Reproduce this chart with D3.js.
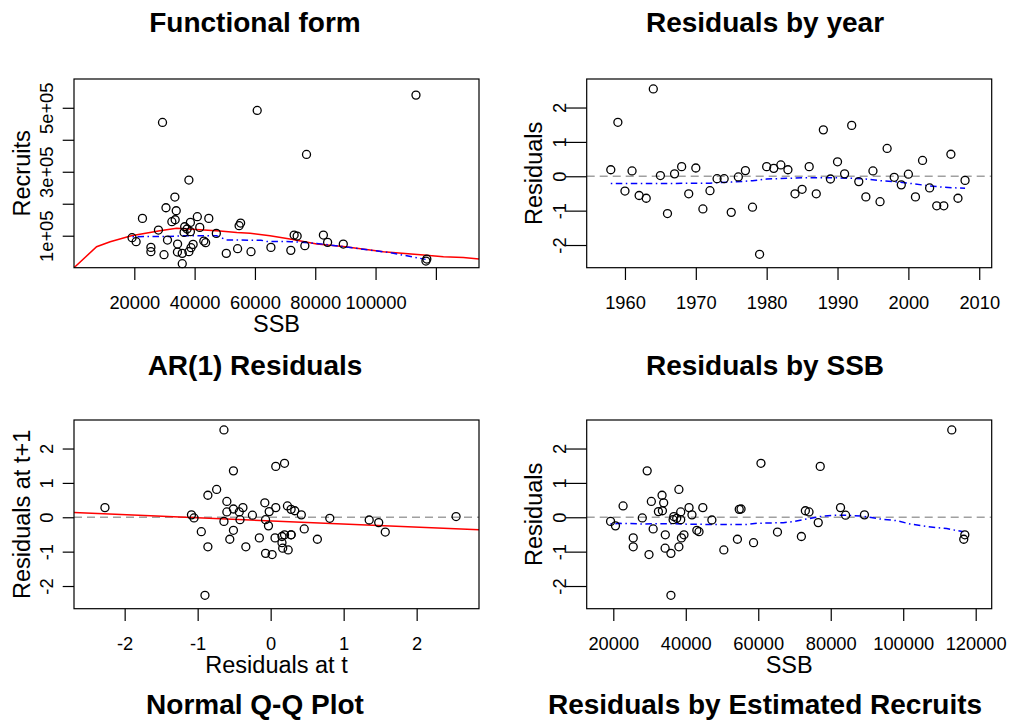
<!DOCTYPE html>
<html>
<head>
<meta charset="utf-8">
<script src="https://cdn.jsdelivr.net/npm/d3@7"></script>
<style>
  body { margin: 0; background: #fff; }
  svg { display: block; }
  text { font-family: "Liberation Sans", Arial, Helvetica, sans-serif; fill: #000; }
</style>
</head>
<body>
<svg id="chart" width="1014" height="721"></svg>
<script>
// ---- Observations by year ----
const years = [1958,1959,1960,1961,1962,1963,1964,1965,1966,1967,1968,1969,1970,1971,1972,1973,1974,1975,1976,1977,
  1978,1979,1980,1981,1982,1983,1984,1985,1986,1987,1988,1989,1990,1991,1992,1993,1994,1995,1996,1997,
  1998,1999,2000,2001,2002,2003,2004,2005,2006,2007,2008];
const ssb = [33550,60750,65300,38600,71900,54250,113400,36700,29850,89300,40900,39500,55250,50500,43650,36500,38600,35900,28000,32450,
  34300,35900,82700,54750,22700,73000,34350,43050,44700,117000,29350,47200,33900,41700,77100,76550,38800,74000,58700,38100,
  37500,20600,84100,25500,30500,31000,38100,25500,33450,116700,19250];
const recruits = [150000,491700,63500,141700,54200,59400,539600,128100,40600,74000,159400,72900,139600,44800,78100,110400,112500,44800,117700,143750,
  48960,12500,102100,131250,154200,102100,73960,83300,154200,27100,454200,107300,178100,126000,354200,68750,62500,99000,50000,274000,
  121000,81250,79200,63540,187500,86460,50000,50000,220800,20800,93750];
const residuals = [0.19,1.57,-0.43,0.155,-0.56,-0.64,2.54,0.02,-1.085,0.07,0.28,-0.51,0.24,-0.95,-0.42,-0.07,-0.07,-1.05,-0.02,0.165,
  -0.9,-2.27,0.28,0.23,0.33,0.19,-0.51,-0.38,0.28,-0.51,1.35,-0.08,0.42,0.07,1.48,-0.155,-0.6,0.155,-0.74,0.81,
  -0.03,-0.25,0.06,-0.6,0.46,-0.34,-0.86,-0.86,0.64,-0.64,-0.12];

// ---- Fitted stock-recruit curve ----
const fitSSB = [0,7500,12000,19000,28500,34000,41800,48400,54000,58400,65000,71600,80500,89300,98200,102600,115900,122500,129100,134300];
const fitRecruits = [0,65600,81000,100000,115600,123000,119000,115000,110000,107500,100000,90000,74000,66000,55000,50000,40000,34000,32000,27000];

// ---- Smoothers ----
const smoothRecSSB = [19400,30000,37000,47300,50600,62000,64000,72000,80500,89300,98200,104800,116600];
const smoothRec = [97000,97500,100000,100000,86500,86000,82000,81500,76000,66000,55000,47000,26000];
const smoothYear = [1958,1966,1972,1975,1978,1980,1983,1985,1989,1992,1994,1996,1998,2000,2003,2005,2008];
const smoothYearRes = [-0.21,-0.21,-0.2,-0.17,-0.13,-0.08,-0.06,-0.04,-0.04,-0.06,-0.08,-0.13,-0.155,-0.2,-0.28,-0.32,-0.35];
const smoothResSSB = [19200,21800,28300,34700,40200,47600,56800,59600,66900,69700,73400,77000,80700,84400,89000,93600,98200,101900,106500,112000,116600];
const smoothRes = [-0.195,-0.176,-0.195,-0.185,-0.2,-0.21,-0.21,-0.176,-0.156,-0.127,-0.05,0.02,0.06,0.06,0.03,-0.05,-0.1,-0.195,-0.27,-0.33,-0.42];

// ---- Lag-1 regression line ----
const arIntercept = -0.104;
const arSlope = -0.0896;

// ---- Axis ticks ----
const recTicks = [100000,200000,300000,400000,500000];
const recTickLabels = ["1e+05","","3e+05","","5e+05"];
const ssbTicks1 = [20000,40000,60000,80000,100000,120000];
const ssbTickLabels1 = ["20000","40000","60000","80000","100000",""];
const yearTicks = [1960,1970,1980,1990,2000,2010];
const resTicks = [-2,-1,0,1,2];
const ssbTicks4 = [20000,40000,60000,80000,100000,120000];

const titles = ["Functional form","Residuals by year","AR(1) Residuals","Residuals by SSB",
  "Normal Q-Q Plot","Residuals by Estimated Recruits"];

const svg = d3.select("#chart");

// Layout: two columns, rows of plot boxes
const cols = [{left: 74, right: 479, yTick: 11.3, titleX: 255},
              {left: 586.7, right: 991.7, yTick: 21, titleX: 765}];
const rows = [{top: 79, bottom: 267.7, titleY: 31.7},
              {top: 420, bottom: 608.7, titleY: 375},
              {titleY: 714}];

function drawPanel(col, row, opt) {
  const g = svg.append("g");
  const x = d3.scaleLinear().domain(opt.xDomain).range([col.left, col.right]);
  const y = d3.scaleLinear().domain(opt.yDomain).range([row.bottom, row.top]);

  // x axis
  const xa = g.append("g").attr("transform", `translate(0,${row.bottom})`)
    .call(d3.axisBottom(x).tickValues(opt.xTicks)
      .tickFormat((d, i) => opt.xLabels ? opt.xLabels[i] : String(d))
      .tickSize(12.3).tickSizeOuter(0));
  xa.select(".domain").remove();
  xa.selectAll("line").attr("stroke", "#000").attr("stroke-width", 1.2);
  xa.selectAll("text").attr("y", 41.6).attr("dy", null)
    .style("font-size", "18.3px").attr("fill", "#000")
    .style("font-family", "'Liberation Sans', Arial, sans-serif");

  // y axis with labels parallel to the axis
  const ya = g.append("g").attr("transform", `translate(${col.left},0)`)
    .call(d3.axisLeft(y).tickValues(opt.yTicks)
      .tickFormat((d, i) => opt.yLabels ? opt.yLabels[i] : String(d))
      .tickSize(col.yTick).tickSizeOuter(0));
  ya.select(".domain").remove();
  ya.selectAll("line").attr("stroke", "#000").attr("stroke-width", 1.2);
  ya.selectAll("text").attr("x", null).attr("dy", null).attr("text-anchor", "middle")
    .attr("transform", "translate(-20.7,0) rotate(-90)")
    .style("font-size", "18.3px").attr("fill", "#000")
    .style("font-family", "'Liberation Sans', Arial, sans-serif");

  // axis titles
  if (opt.xTitle) {
    g.append("text").attr("x", (col.left + col.right) / 2).attr("y", row.bottom + 64.5)
      .attr("text-anchor", "middle").style("font-size", "23.5px").text(opt.xTitle);
  }
  g.append("text")
    .attr("transform", `translate(${col.left - 44.5},${(row.top + row.bottom) / 2}) rotate(-90)`)
    .attr("text-anchor", "middle").style("font-size", "23.5px").text(opt.yTitle);

  // plot area contents
  const clipId = "clip" + Math.round(col.left) + "_" + Math.round(row.top);
  g.append("clipPath").attr("id", clipId).append("rect")
    .attr("x", col.left).attr("y", row.top)
    .attr("width", col.right - col.left).attr("height", row.bottom - row.top);
  const inner = g.append("g").attr("clip-path", `url(#${clipId})`);

  if (opt.zeroLine) {
    inner.append("line")
      .attr("x1", x(opt.xDomain[0])).attr("x2", x(opt.xDomain[1]))
      .attr("y1", y(0)).attr("y2", y(0))
      .attr("stroke", "#a0a0a0").attr("stroke-width", 1.3).attr("stroke-dasharray", "8,5");
  }

  (opt.lines || []).forEach(L => {
    const line = d3.line().x(d => x(d[0])).y(d => y(d[1]));
    inner.append("path").datum(L.data).attr("d", line)
      .attr("fill", "none").attr("stroke", L.color).attr("stroke-width", L.width || 1.5)
      .attr("stroke-dasharray", L.dash || null);
  });

  g.append("g").selectAll("circle").data(opt.points).join("circle")
    .attr("cx", d => x(d[0])).attr("cy", d => y(d[1])).attr("r", 4)
    .attr("fill", "none").attr("stroke", "#000").attr("stroke-width", 1.3);

  // plot box
  g.append("rect").attr("x", col.left).attr("y", row.top)
    .attr("width", col.right - col.left).attr("height", row.bottom - row.top)
    .attr("fill", "none").attr("stroke", "#000").attr("stroke-width", 1.2);
}

const dotdash = "1.5,3.5,6.5,3.5";

// Functional form: recruits vs SSB
drawPanel(cols[0], rows[0], {
  xDomain: [0, 134300], yDomain: [0, 590000],
  xTicks: ssbTicks1, xLabels: ssbTickLabels1,
  yTicks: recTicks, yLabels: recTickLabels,
  xTitle: "SSB", yTitle: "Recruits",
  points: ssb.map((s, i) => [s, recruits[i]]),
  lines: [
    {data: fitSSB.map((s, i) => [s, fitRecruits[i]]), color: "#ff0000", width: 1.5},
    {data: smoothRecSSB.map((s, i) => [s, smoothRec[i]]), color: "#0000ff", width: 1.5, dash: dotdash}
  ]
});

// Residuals by year
drawPanel(cols[1], rows[0], {
  xDomain: [1954.6, 2011.76], yDomain: [-2.66, 2.83],
  xTicks: yearTicks, yTicks: resTicks,
  yTitle: "Residuals", zeroLine: true,
  points: years.map((yr, i) => [yr, residuals[i]]),
  lines: [
    {data: smoothYear.map((yr, i) => [yr, smoothYearRes[i]]), color: "#0000ff", width: 1.5, dash: dotdash}
  ]
});

// AR(1) residuals: residual at t vs residual at t+1
const lagPairs = residuals.slice(0, -1).map((r, i) => [r, residuals[i + 1]]);
const arDomain = [-2.694, 2.854];
drawPanel(cols[0], rows[1], {
  xDomain: arDomain, yDomain: [-2.66, 2.83],
  xTicks: resTicks, yTicks: resTicks,
  xTitle: "Residuals at t", yTitle: "Residuals at t+1", zeroLine: true,
  points: lagPairs,
  lines: [
    {data: arDomain.map(v => [v, arIntercept + arSlope * v]), color: "#ff0000", width: 1.5}
  ]
});

// Residuals by SSB
drawPanel(cols[1], rows[1], {
  xDomain: [12660, 124415], yDomain: [-2.66, 2.83],
  xTicks: ssbTicks4, yTicks: resTicks,
  xTitle: "SSB", yTitle: "Residuals", zeroLine: true,
  points: ssb.map((s, i) => [s, residuals[i]]),
  lines: [
    {data: smoothResSSB.map((s, i) => [s, smoothRes[i]]), color: "#0000ff", width: 1.5, dash: dotdash}
  ]
});

// Panel titles
const titlePos = [[0,0],[1,0],[0,1],[1,1],[0,2],[1,2]];
svg.append("g").selectAll("text").data(titles).join("text")
  .attr("x", (d, i) => cols[titlePos[i][0]].titleX)
  .attr("y", (d, i) => rows[titlePos[i][1]].titleY)
  .attr("text-anchor", "middle")
  .style("font-size", "28px").style("font-weight", "bold")
  .text(d => d);
</script>
</body>
</html>
